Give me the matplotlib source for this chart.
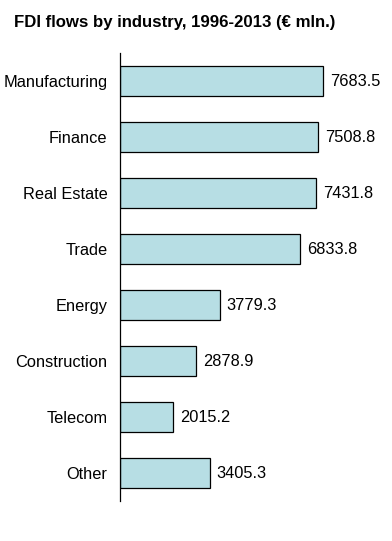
import numpy as np
import matplotlib
matplotlib.use("Agg")
import matplotlib.pyplot as plt

industries = ["Manufacturing", "Finance", "Real Estate", "Trade", "Energy",
              "Construction", "Telecom", "Other"]
fdi_flows = [7683.5, 7508.8, 7431.8, 6833.8, 3779.3, 2878.9, 2015.2, 3405.3]

plt.rcParams['font.family'] = ['Liberation Sans', 'DejaVu Sans']

fig = plt.figure(figsize=(3.92, 5.41), dpi=100)
ax = fig.add_axes([120 / 392, 1 - 501 / 541, 264 / 392, 448 / 541])

pos = np.arange(len(industries))
ax.barh(pos, fdi_flows, height=0.55, color='#b7dee4', edgecolor='black', linewidth=0.9)
for y, v in zip(pos, fdi_flows):
    ax.text(v + 260, y, "%.1f" % v, va='center', ha='left', fontsize=11.8)

ax.set_ylim(len(industries) - 0.5, -0.5)
ax.set_xlim(0, 10000)
ax.set_yticks(pos)
ax.set_yticklabels(industries, fontsize=11.8)
ax.tick_params(axis='y', length=0, pad=9)
ax.set_xticks([])
for side in ['top', 'right', 'bottom']:
    ax.spines[side].set_visible(False)
ax.spines['left'].set_linewidth(0.9)

fig.text(14 / 392, 1 - 23 / 541, "FDI flows by industry, 1996-2013 (€ mln.)",
         fontsize=12.1, fontweight='bold', va='center', ha='left')

fig.savefig("out.png", dpi=100)
